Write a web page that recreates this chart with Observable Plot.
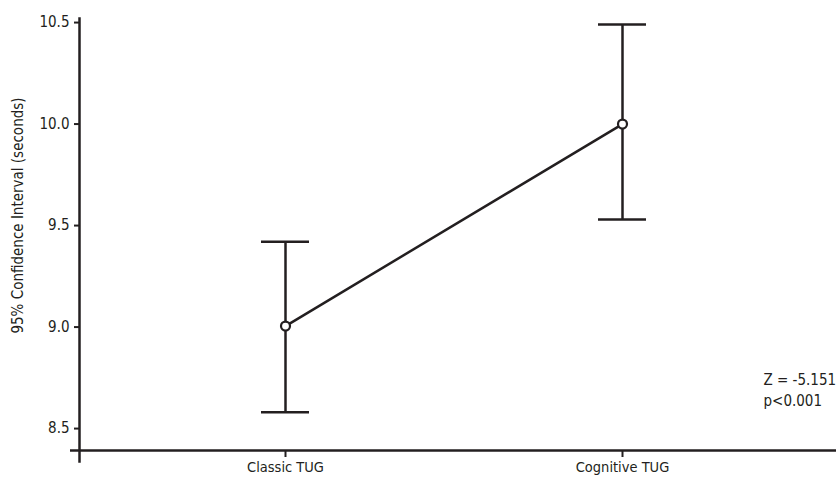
<!DOCTYPE html>
<html>
<head>
<meta charset="utf-8">
<script src="https://cdn.jsdelivr.net/npm/d3@7"></script>
<script src="https://cdn.jsdelivr.net/npm/@observablehq/plot@0.6"></script>
<style>
  html, body { margin: 0; padding: 0; background: #fff; }
  #chart svg { display: block; }
</style>
</head>
<body>
<div id="chart"></div>
<script>
const categories = ["Classic TUG", "Cognitive TUG"];
const means = [9.005, 10.0];
const lowers = [8.58, 9.53];
const uppers = [9.42, 10.49];
const yTicks = [8.5, 9.0, 9.5, 10.0, 10.5];
const yLabel = "95% Confidence Interval (seconds)";
const annotation = ["Z = -5.151", "p<0.001"];

const data = categories.map((c, i) => ({cat: c, mean: means[i], lo: lowers[i], hi: uppers[i]}));
const ink = "#231f20";
const font = "'Liberation Sans Narrow', 'DejaVu Sans Condensed', sans-serif";

const chart = Plot.plot({
  width: 836,
  height: 478,
  marginLeft: 79,
  marginRight: 0,
  marginTop: 18,
  marginBottom: 28,
  style: {fontFamily: font, fontSize: "15px", color: ink, background: "#fff"},
  x: {type: "band", domain: categories, range: [261, 646], paddingInner: 0.8576, paddingOuter: 0, axis: null},
  y: {domain: [8.392, 10.52], axis: null},
  marks: [
    Plot.axisY(yTicks, {tickSize: 5, tickPadding: 5, tickFormat: d3.format(".1f"), stroke: ink, strokeWidth: 2, fill: ink, label: null, fontSize: 15}),
    Plot.axisX({tickSize: 7, tickPadding: 4, stroke: ink, strokeWidth: 2, fill: ink, label: null, fontSize: 14.5}),
    Plot.frame({anchor: "left", stroke: ink, strokeWidth: 2.5, insetBottom: -11}),
    Plot.ruleY([8.392], {stroke: ink, strokeWidth: 2.5, insetLeft: -9}),
    Plot.ruleX(data, {x: "cat", y1: "lo", y2: "hi", stroke: ink, strokeWidth: 2.5}),
    Plot.tickY(data, {x: "cat", y: "lo", stroke: ink, strokeWidth: 2.5}),
    Plot.tickY(data, {x: "cat", y: "hi", stroke: ink, strokeWidth: 2.5}),
    Plot.line(data, {x: "cat", y: "mean", stroke: ink, strokeWidth: 2.5}),
    Plot.dot(data, {x: "cat", y: "mean", r: 4.5, stroke: ink, strokeWidth: 2.2, fill: "#fff"}),
    Plot.text([yLabel], {text: d => d, frameAnchor: "left", textAnchor: "middle", rotate: -90, dx: -61, dy: -19, fill: ink, fontSize: 15}),
    Plot.text([annotation.join("\n")], {text: d => d, frameAnchor: "bottom-right", textAnchor: "start", lineAnchor: "top", dx: -73, dy: -80, lineHeight: 1.4, fill: ink, fontSize: 15})
  ]
});
document.getElementById("chart").appendChild(chart);
</script>
</body>
</html>
